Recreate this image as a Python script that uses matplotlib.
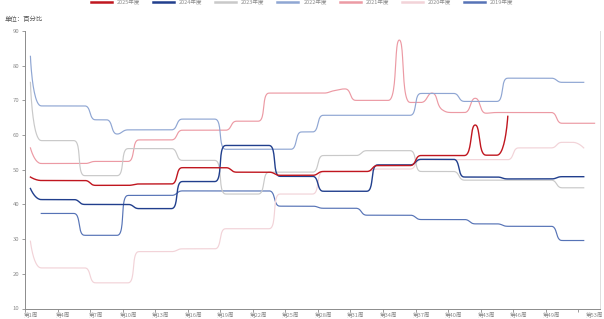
import numpy as np
import matplotlib
matplotlib.use('Agg')
import matplotlib.pyplot as plt

plt.rcParams['font.family'] = ['Noto Sans CJK SC', 'DejaVu Sans']

# 周次
weeks = ['第%d周' % i for i in range(1, 54)]

# 各年度数据（百分比），按周
y2025 = [47.9, 46.9, 46.9, 46.9, 46.9, 46.9, 45.5, 45.5, 45.5, 45.5,
         45.9, 45.9, 45.9, 45.9, 50.6, 50.6, 50.6, 50.6, 50.6, 49.3,
         49.3, 49.3, 49.3, 48.4, 48.4, 48.4, 48.4, 49.5, 49.5, 49.5,
         49.5, 49.5, 51.2, 51.2, 51.2, 51.2, 54.1, 54.1, 54.1, 54.1,
         54.1, 62.9, 54.2, 54.2, 65.4]
y2024 = [44.6, 41.4, 41.4, 41.4, 41.4, 40.0, 40.0, 40.0, 40.0, 40.0,
         38.8, 38.8, 38.8, 38.8, 46.6, 46.6, 46.6, 46.6, 57.0, 57.0,
         57.0, 57.0, 57.0, 48.1, 48.1, 48.1, 48.1, 43.8, 43.8, 43.8,
         43.8, 43.8, 51.4, 51.4, 51.4, 51.4, 53.0, 53.0, 53.0, 53.0,
         47.9, 47.9, 47.9, 47.9, 47.35, 47.35, 47.35, 47.35, 47.35, 48.0,
         48.0, 48.0]
y2023 = [75.2, 58.4, 58.4, 58.4, 58.4, 48.3, 48.3, 48.3, 48.3, 56.1,
         56.1, 56.1, 56.1, 56.1, 52.7, 52.7, 52.7, 52.7, 43.0, 43.0,
         43.0, 43.0, 49.3, 49.3, 49.3, 49.3, 49.3, 54.1, 54.1, 54.1,
         54.1, 55.5, 55.5, 55.5, 55.5, 55.5, 49.5, 49.5, 49.5, 49.5,
         47.0, 47.0, 47.0, 47.0, 47.0, 47.0, 47.0, 47.0, 47.0, 44.8,
         44.8, 44.8]
y2022 = [82.7, 68.4, 68.4, 68.4, 68.4, 68.4, 64.4, 64.4, 60.3, 61.5,
         61.5, 61.5, 61.5, 61.5, 64.6, 64.6, 64.6, 64.6, 55.9, 55.9,
         55.9, 55.9, 55.9, 55.9, 55.9, 60.9, 60.9, 65.7, 65.7, 65.7,
         65.7, 65.7, 65.7, 65.7, 65.7, 65.7, 72.0, 72.0, 72.0, 72.0,
         69.7, 69.7, 69.7, 69.7, 76.4, 76.4, 76.4, 76.4, 76.4, 75.2,
         75.2, 75.2]
y2021 = [56.3, 51.8, 51.8, 51.8, 51.8, 51.8, 52.4, 52.4, 52.4, 52.4,
         58.6, 58.6, 58.6, 58.6, 61.4, 61.4, 61.4, 61.4, 61.4, 64.0,
         64.0, 64.0, 72.1, 72.1, 72.1, 72.1, 72.1, 72.1, 72.8, 73.3,
         70.0, 70.0, 70.0, 70.0, 87.4, 69.4, 69.4, 72.1, 67.2, 66.5,
         66.5, 70.6, 66.3, 66.5, 66.5, 66.5, 66.5, 66.5, 66.5, 63.4,
         63.4, 63.4, 63.4]
y2020 = [29.4, 21.7, 21.7, 21.7, 21.7, 21.7, 17.4, 17.4, 17.4, 17.4,
         26.4, 26.4, 26.4, 26.4, 27.2, 27.2, 27.2, 27.2, 33.0, 33.0,
         33.0, 33.0, 33.0, 43.0, 43.0, 43.0, 43.0, 49.5, 49.5, 49.5,
         49.5, 49.5, 50.2, 50.2, 50.2, 50.2, 52.9, 52.9, 52.9, 52.9,
         52.9, 52.9, 52.9, 52.9, 52.9, 56.3, 56.3, 56.3, 56.3, 57.9,
         57.9, 56.3]
y2019 = [np.nan, 37.4, 37.4, 37.4, 37.4, 31.1, 31.1, 31.1, 31.1, 42.6,
         42.6, 42.6, 42.6, 42.6, 43.9, 43.9, 43.9, 43.9, 43.9, 43.9,
         43.9, 43.9, 43.9, 39.5, 39.5, 39.5, 39.5, 38.9, 38.9, 38.9,
         38.9, 36.9, 36.9, 36.9, 36.9, 36.9, 35.65, 35.65, 35.65, 35.65,
         35.65, 34.4, 34.4, 34.4, 33.7, 33.7, 33.7, 33.7, 33.7, 29.6,
         29.6, 29.6]

series = [
    ('2025年度', y2025, '#C0161F', 1.0),
    ('2024年度', y2024, '#213F8D', 1.0),
    ('2023年度', y2023, '#C9C9C9', 0.85),
    ('2022年度', y2022, '#8FA6D3', 0.85),
    ('2021年度', y2021, '#EC9AA4', 0.85),
    ('2020年度', y2020, '#F2D3D8', 0.85),
    ('2019年度', y2019, '#5673B6', 0.85),
]


def smooth_px(px, py, smooth=0.5, steps=24):
    # 平滑折线（控制点夹在相邻点之间，不会越过）
    n = len(px)
    xs, ys = [np.array([px[0]])], [np.array([py[0]])]
    c0x, c0y = px[0], py[0]
    t = np.linspace(0, 1, steps)[1:]
    for i in range(1, n):
        x, y = px[i], py[i]
        prx, pry = px[i - 1], py[i - 1]
        if i == n - 1:
            c1x, c1y, ncx, ncy = x, y, x, y
        else:
            nx, ny = px[i + 1], py[i + 1]
            vx, vy = nx - prx, ny - pry
            lp = np.hypot(x - prx, y - pry)
            ln = np.hypot(nx - x, ny - y)
            r = ln / (ln + lp)
            ncx = x + vx * smooth * r
            ncy = y + vy * smooth * r
            ncx = max(min(ncx, max(nx, x)), min(nx, x))
            ncy = max(min(ncy, max(ny, y)), min(ny, y))
            vx, vy = ncx - x, ncy - y
            c1x = x - vx * lp / ln
            c1y = y - vy * lp / ln
            c1x = max(min(c1x, max(prx, x)), min(prx, x))
            c1y = max(min(c1y, max(pry, y)), min(pry, y))
            vx, vy = x - c1x, y - c1y
            ncx = x + vx * ln / lp
            ncy = y + vy * ln / lp
        b0 = (1 - t) ** 3
        b1 = 3 * (1 - t) ** 2 * t
        b2 = 3 * (1 - t) * t ** 2
        b3 = t ** 3
        xs.append(b0 * prx + b1 * c0x + b2 * c1x + b3 * x)
        ys.append(b0 * pry + b1 * c0y + b2 * c1y + b3 * y)
        c0x, c0y = ncx, ncy
    return np.concatenate(xs), np.concatenate(ys)


fig = plt.figure(figsize=(6.04, 3.19), dpi=100)
ax = fig.add_axes([25 / 604, 1 - 308.5 / 319, 575 / 604, 277.5 / 319])
ax.set_xlim(0.5, 53.5)
ax.set_ylim(10, 90)

for name, vals, color, lw in series[::-1]:
    vals = np.array(vals, float)
    x = np.arange(1, len(vals) + 1)
    m = ~np.isnan(vals)
    pts = ax.transData.transform(np.column_stack([x[m], vals[m]]))
    sx, sy = smooth_px(pts[:, 0], pts[:, 1])
    d = ax.transData.inverted().transform(np.column_stack([sx, sy]))
    ax.plot(d[:, 0], d[:, 1], color=color, lw=lw, label=name)

ax.set_yticks(range(10, 91, 10))

ax.set_xticks(np.arange(0.5, 52, 3))
ax.set_xticklabels([])
lab_pos = list(range(1, 50, 3)) + [53]
ax.set_xticks(lab_pos, minor=True)
ax.set_xticklabels([weeks[i - 1] for i in lab_pos], minor=True)
ax.tick_params(axis='both', which='major', length=2.5, width=0.6,
               color='#8C8C8C', labelsize=4.3, labelcolor='#8C8C8C', pad=1.5)
ax.tick_params(axis='x', which='minor', length=0, pad=2.3,
               labelsize=4.1, labelcolor='#8C8C8C')

for s in ['left', 'bottom']:
    ax.spines[s].set_color('#8C8C8C')
    ax.spines[s].set_linewidth(0.7)
ax.spines['right'].set_color('#DDDDDD')
ax.spines['right'].set_linewidth(0.7)
ax.spines['top'].set_visible(False)

fig.text(5 / 604, 1 - 19 / 319, '单位：百分比', fontsize=4.6, color='#555555',
         va='center', ha='left')

handles, labels = ax.get_legend_handles_labels()
fig.legend(handles[::-1], labels[::-1], loc='upper center', ncol=7,
           bbox_to_anchor=(0.5, 1.012), frameon=False, fontsize=4.0,
           handlelength=3.8, columnspacing=2.3, handletextpad=0.9,
           labelcolor='#8C8C8C', borderpad=0.2)
for h in fig.legends[0].legend_handles:
    h.set_linewidth(1.8)

fig.savefig('out.png', dpi=100)
